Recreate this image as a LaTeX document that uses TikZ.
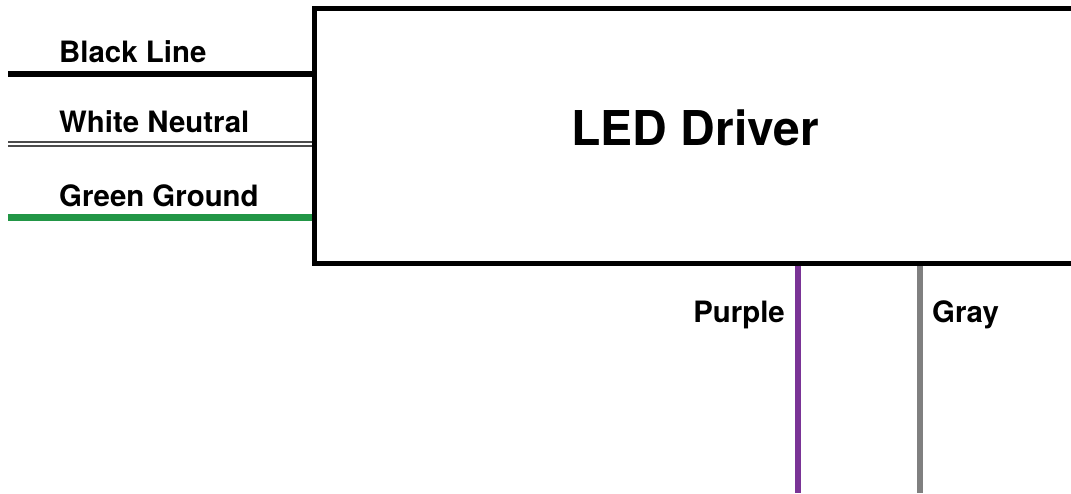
\documentclass[tikz,border=0pt]{standalone}
\usepackage{fontspec}
\setmainfont{TeX Gyre Heros}

\begin{document}
\begin{tikzpicture}[x=1pt, y=1pt,
    wirelabel/.style ={font=\fontsize{29.4}{31}\selectfont\bfseries, inner sep=0pt},
    driverbox/.style ={draw, line width=5pt, inner sep=0pt, minimum width=761pt, minimum height=255pt},
    wire/.style ={line width=6pt}]
   \useasboundingbox (0,0) rectangle (1071,-494);

   \node[driverbox] (driver) at (695,-136) {};
   \node[font=\fontsize{48}{50}\selectfont\bfseries, inner sep=0pt] (title) at (695,-128) {LED Driver};

   \coordinate (blackend) at (8,-74);
   \coordinate (whiteend) at (8,-144);
   \coordinate (greenend) at (8,-218);
   \coordinate (purpleend) at (798,-493);
   \coordinate (grayend) at (920,-493);

   \node[wirelabel, anchor=base west] (blacklabel) at (59,-63) {Black Line};
   \node[wirelabel, anchor=base west] (whitelabel) at (59,-133) {White Neutral};
   \node[wirelabel, anchor=base west] (greenlabel) at (59,-207) {Green Ground};
   \node[wirelabel, anchor=base east] (purplelabel) at (785,-323) {Purple};
   \node[wirelabel, anchor=base west] (graylabel) at (932,-323) {Gray};

   \draw[wire] (blackend) -- (blackend -| driver.west);
   \draw[line width=1.6pt, draw=black!70, double=white, double distance=2.6pt] (whiteend) -- (whiteend -| driver.west);
   \draw[wire, line width=7pt, draw={rgb,255:red,34;green,150;blue,70}] (greenend) -- (greenend -| driver.west);
   \draw[wire, draw={rgb,255:red,122;green,52;blue,150}] (purpleend |- driver.south) -- (purpleend);
   \draw[wire, draw={rgb,255:red,128;green,128;blue,128}] (grayend |- driver.south) -- (grayend);
 \end{tikzpicture}
\end{document}
